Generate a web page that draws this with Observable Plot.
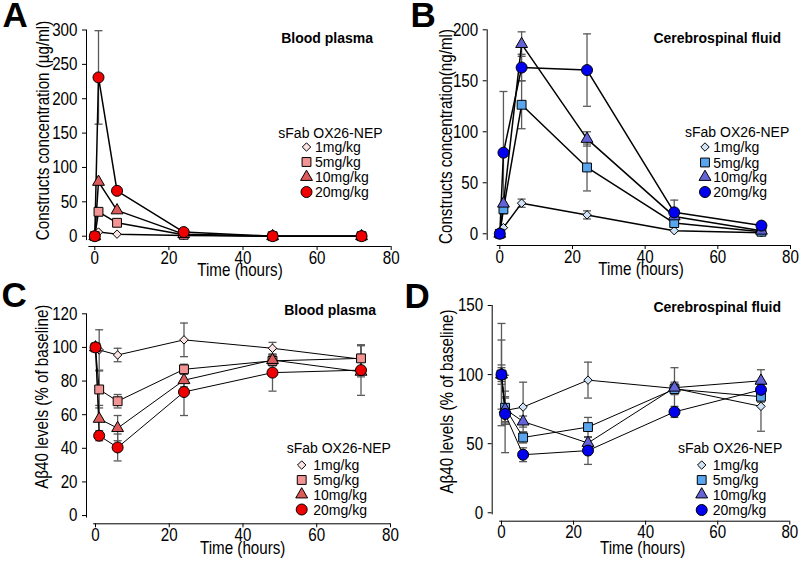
<!DOCTYPE html>
<html><head><meta charset="utf-8">
<script src="https://cdn.jsdelivr.net/npm/d3@7"></script>
<script src="https://cdn.jsdelivr.net/npm/@observablehq/plot@0.6"></script>
<style>
html,body{margin:0;padding:0;background:#fff;}
#root{position:relative;width:800px;height:565px;overflow:hidden;background:#fff;}
</style></head><body><div id="root"></div>
<script>
// ---- data ----
const times = [0, 1, 6, 24, 48, 72];
const doses = ["1mg/kg", "5mg/kg", "10mg/kg", "20mg/kg"];
const legendTitle = "sFab OX26-NEP";
const xTicks = [0, 20, 40, 60, 80];

// A: blood plasma construct concentration (µg/ml)
const plasmaConc = [
  [0, 6, 3, 1, 0, 0],
  [0, 35.5, 19.5, 2, 0, 0],
  [0, 79, 37.5, 3, 0, 0],
  [0, 231, 66, 6, 0, 0]
];
const plasmaConcErr = [
  [0, 0, 0, 0, 0, 0],
  [0, 0, 0, 0, 0, 0],
  [0, 0, 0, 0, 0, 0],
  [0, 68, 0, 0, 0, 0]
];
const yTicksA = [0, 50, 100, 150, 200, 250, 300];

// B: CSF construct concentration (ng/ml)
const csfConc = [
  [0, 6, 30, 18.5, 3, 1],
  [0, 24, 126.5, 65, 10.5, 2],
  [0, 29.5, 186, 93, 17, 3],
  [0, 79.5, 163, 160.5, 21, 8]
];
const csfConcErr = [
  [0, 0, 4, 4, 0, 0],
  [0, 0, 23.5, 23, 0, 0],
  [0, 0, 12, 7, 0, 0],
  [0, 60, 13, 35.5, 12, 3]
];
const yTicksB = [0, 50, 100, 150, 200];

// C: plasma Abeta40 (% of baseline)
const plasmaAb = [
  [100, 98.5, 95.5, 104.5, 99.5, 93],
  [100, 75, 68, 87, 92, 93.5],
  [100, 57.5, 52, 80.5, 92.5, 85.5],
  [100, 47.5, 40.5, 73.5, 85, 86.5]
];
const plasmaAbErr = [
  [0, 12, 4, 10, 3.5, 8],
  [0, 11, 4, 3, 3, 8],
  [0, 8, 7.5, 4, 3, 3],
  [0, 3, 8, 14, 11, 15]
];
const yTicksC = [0, 20, 40, 60, 80, 100, 120];

// D: CSF Abeta40 (% of baseline)
const csfAb = [
  [100, 74, 76.5, 96, 90, 77],
  [100, 76, 54.5, 62, 89.5, 84],
  [100, 75, 66, 50.5, 90.5, 95.5],
  [100, 71.5, 42, 45, 73, 89]
];
const csfAbErr = [
  [37, 9, 18, 13, 15, 18],
  [25, 12, 4, 7, 4, 4],
  [7, 9, 4, 4, 4, 8],
  [5, 28, 5, 10, 4, 4]
];
const yTicksD = [0, 50, 100, 150];

const redColors = ["#fde4e4", "#f29494", "#dd5a5a", "#ee0000"];
const blueColors = ["#cfe2f6", "#5aa6ee", "#6464d8", "#0000ee"];

// ---- styling ----
const sans = "'Liberation Sans', Arial, Helvetica, sans-serif";
const axisFontSize = 18.5;
const narrowFactor = 0.82;
const symbols = [d3.symbolDiamond2, d3.symbolSquare, d3.symbolTriangle, d3.symbolCircle];
const symbolR = [3.8, 5, 4.4, 5.5];
const errColor = "#5a5a5a";
const capSymbol = {draw(ctx) { ctx.moveTo(-4, 0); ctx.lineTo(4, 0); }};

const root = document.getElementById("root");

// condense a text element horizontally (narrow sans look)
function narrowText(el) {
  const len = el.getComputedTextLength();
  if (len > 0) {
    el.setAttribute("textLength", (len * narrowFactor).toFixed(2));
    el.setAttribute("lengthAdjust", "spacingAndGlyphs");
  }
}

function panel(cfg) {
  const rows = [];
  doses.forEach((d, i) => times.forEach((t, j) => rows.push({dose: d, i, t, v: cfg.values[i][j], e: cfg.errors[i][j]})));
  const errRows = rows.filter(r => r.e > 0);
  const caps = errRows.flatMap(r => [{t: r.t, y: r.v + r.e}, {t: r.t, y: r.v - r.e}]);
  const chart = Plot.plot({
    width: cfg.width, height: cfg.height,
    marginLeft: cfg.m[3], marginRight: cfg.m[1], marginTop: cfg.m[0], marginBottom: cfg.m[2],
    x: {domain: cfg.xDomain},
    y: {domain: cfg.yDomain},
    style: {fontFamily: sans, fontSize: axisFontSize + "px", color: "black", background: "transparent", overflow: "visible"},
    marks: [
      Plot.ruleX([cfg.xDomain[0]], {y1: () => cfg.yLine[0], y2: () => cfg.yLine[1], stroke: "black", strokeWidth: 1}),
      Plot.ruleY([cfg.yDomain[0]], {x1: () => cfg.xLine[0], x2: () => cfg.xLine[1], stroke: "black", strokeWidth: 1}),
      Plot.axisX({ticks: xTicks, tickSize: 4, tickPadding: 0, label: null, tickFormat: d => String(d)}),
      Plot.axisY({ticks: cfg.yTicks, tickSize: 4, tickPadding: 5, label: null, tickFormat: d => String(d)}),
      Plot.ruleX(errRows, {x: "t", y1: r => r.v - r.e, y2: r => r.v + r.e, stroke: errColor, strokeWidth: 1.3}),
      Plot.dot(caps, {x: "t", y: "y", symbol: capSymbol, r: 4, fill: "none", stroke: errColor, strokeWidth: 1.3}),
      Plot.line(rows, {x: "t", y: "v", z: "dose", stroke: "black", strokeWidth: cfg.lineWidth}),
      ...doses.map((d, i) => Plot.dot(rows.filter(r => r.i === i), {
        x: "t", y: "v", symbol: symbols[i], r: symbolR[i], fill: cfg.colors[i], stroke: "black", strokeWidth: 1
      }))
    ]
  });
  chart.style.position = "absolute";
  chart.style.left = cfg.left + "px";
  chart.style.top = cfg.top + "px";
  root.appendChild(chart);
  chart.querySelectorAll("text").forEach(narrowText);
}

const panels = [
  {left: 0, top: 0, width: 400, height: 280, m: [29.5, 9.3, 34, 86], xDomain: [-2.24, 80], yDomain: [-15, 300],
   yLine: [-6.5, 300], xLine: [-1.6, 80], yTicks: yTicksA, values: plasmaConc, errors: plasmaConcErr, colors: redColors, lineWidth: 1.5,
   letter: "A", letterPos: [2.5, 26.7], title: "Blood plasma", titlePos: [373, 43.3],
   ylabel: "Constructs concentration (\u00b5g/ml)", ylabelPos: [48.5, 130.5], xlabelPos: [240, 276.2],
   legend: {hx: 278.3, hy: 138.3, mx: 306.5, tx: 315, ys: [147, 162, 177, 192]}},
  {left: 400, top: 0, width: 400, height: 280, m: [29.3, 10, 35, 86.7], xDomain: [-3.47, 80], yDomain: [-11.5, 200],
   yLine: [-6.5, 200], xLine: [-0.7, 80], yTicks: yTicksB, values: csfConc, errors: csfConcErr, colors: blueColors, lineWidth: 1.5,
   letter: "B", letterPos: [410.5, 27], title: "Cerebrospinal fluid", titlePos: [781, 43.3],
   ylabel: "Constructs concentration(ng/ml)", ylabelPos: [451.6, 136.5], xlabelPos: [641, 275.4],
   legend: {hx: 685, hy: 136.7, mx: 705, tx: 713.3, ys: [147, 162.5, 177, 192]}},
  {left: 0, top: 280, width: 400, height: 285, m: [33.3, 10, 41.7, 86], xDomain: [-2.44, 80], yDomain: [-4.9, 120],
   yLine: [-1.5, 120], xLine: [-0.5, 80], yTicks: yTicksC, values: plasmaAb, errors: plasmaAbErr, colors: redColors, lineWidth: 1,
   letter: "C", letterPos: [1.5, 306.7], title: "Blood plasma", titlePos: [376, 315],
   ylabel: "A\u03b240 levels (% of baseline)", ylabelPos: [48.3, 396.7], xlabelPos: [242.7, 553.5],
   legend: {hx: 286.7, hy: 453.3, mx: 301.7, tx: 313.3, ys: [465, 480, 494.5, 509.5]}},
  {left: 400, top: 280, width: 400, height: 285, m: [25, 10.7, 44.3, 91.7], xDomain: [-2.58, 80], yDomain: [-6.1, 150],
   yLine: [-1.5, 150], xLine: [-0.5, 80], yTicks: yTicksD, values: csfAb, errors: csfAbErr, colors: blueColors, lineWidth: 1,
   letter: "D", letterPos: [404.5, 308], title: "Cerebrospinal fluid", titlePos: [781, 311.7],
   ylabel: "A\u03b240 levels (% of baseline)", ylabelPos: [453.3, 401.5], xlabelPos: [642.7, 553.5],
   legend: {hx: 678, hy: 453.3, mx: 701.7, tx: 712.7, ys: [465, 480, 494.5, 510]}}
];

panels.forEach(panel);

// ---- overlay: letters, titles, axis labels, legends ----
const ov = d3.select(root).append("svg")
  .attr("width", 800).attr("height", 565)
  .style("position", "absolute").style("left", "0px").style("top", "0px").style("pointer-events", "none");

panels.forEach(p => {
  ov.append("text").attr("x", p.letterPos[0]).attr("y", p.letterPos[1])
    .attr("font-family", sans).attr("font-weight", "bold").attr("font-size", 35).text(p.letter);
  ov.append("text").attr("x", p.titlePos[0]).attr("y", p.titlePos[1]).attr("text-anchor", "end")
    .attr("font-family", sans).attr("font-weight", "bold").attr("font-size", 14).text(p.title);
  ov.append("text").attr("class", "narrow").attr("transform", `translate(${p.ylabelPos[0]},${p.ylabelPos[1]}) rotate(-90)`)
    .attr("text-anchor", "middle").attr("font-family", sans).attr("font-size", axisFontSize).text(p.ylabel);
  ov.append("text").attr("class", "narrow").attr("x", p.xlabelPos[0]).attr("y", p.xlabelPos[1]).attr("text-anchor", "middle")
    .attr("font-family", sans).attr("font-size", axisFontSize).text("Time (hours)");
  const L = p.legend;
  ov.append("text").attr("x", L.hx).attr("y", L.hy).attr("font-family", sans).attr("font-size", 14).text(legendTitle);
  doses.forEach((d, i) => {
    ov.append("path").attr("transform", `translate(${L.mx},${L.ys[i]})`)
      .attr("d", d3.symbol(symbols[i], Math.PI * symbolR[i] * symbolR[i])())
      .attr("fill", p.colors[i]).attr("stroke", "black").attr("stroke-width", 1);
    ov.append("text").attr("x", L.tx).attr("y", L.ys[i] + 5).attr("font-family", sans).attr("font-size", 14).text(d);
  });
});
ov.selectAll("text.narrow").each(function() { narrowText(this); });
</script>
</body></html>
